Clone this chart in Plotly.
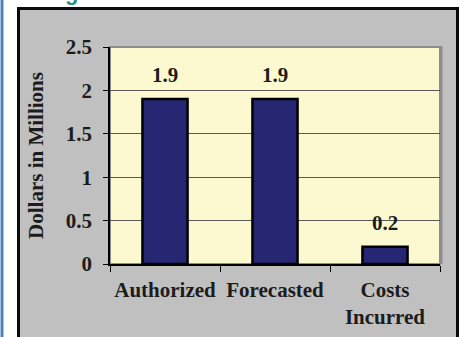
import plotly.graph_objects as go

# Chart data
categories = ["Authorized", "Forecasted", "Costs<br>Incurred"]
values = [1.9, 1.9, 0.2]
y_ticks = [0, 0.5, 1, 1.5, 2, 2.5]
y_tick_labels = ["0", "0.5", "1", "1.5", "2", "2.5"]

W, H = 460, 337
ML, MR, MT, MB = 110, 20, 47, 73
PW, PH = W - ML - MR, H - MT - MB


def px(x):
    """Pixel x -> paper x."""
    return (x - ML) / PW


def py(y):
    """Pixel y (from top) -> paper y."""
    return (H - MB - y) / PH


FONT = dict(family="Liberation Serif", size=21, color="#1c1c1c", weight="bold")

fig = go.Figure()
fig.add_trace(
    go.Bar(
        x=categories,
        y=values,
        marker=dict(color="#262673", line=dict(color="#000000", width=2.5)),
        width=0.41,
        hoverinfo="skip",
    )
)

# value labels above the bars
for c, v in zip(categories, values):
    fig.add_annotation(
        x=c, y=v, text=f"<b>{v:.1f}</b>", showarrow=False,
        xref="x", yref="y", yanchor="middle", yshift=24,
        font=FONT,
    )

# small heading fragment peeking in at the very top
fig.add_annotation(
    x=px(71), y=py(-7), xref="paper", yref="paper", text="<b>g</b>",
    showarrow=False, xanchor="center", yanchor="middle",
    font=dict(family="Liberation Sans", size=22, color="#2d8c8c", weight="bold"),
)

shapes = [
    # grey chart panel with heavy black frame
    dict(type="rect", xref="paper", yref="paper",
         x0=px(18.5), x1=px(457.5), y0=py(345), y1=py(8.5),
         fillcolor="#C0C0C0", line=dict(color="#0a0a0a", width=3), layer="below"),
    # blue rule on the left edge
    dict(type="line", xref="paper", yref="paper",
         x0=px(2), x1=px(2), y0=py(-5), y1=py(345),
         line=dict(color="#4F81BD", width=3), layer="below"),
    # plot area fill
    dict(type="rect", xref="paper", yref="paper",
         x0=0, x1=1, y0=0, y1=1,
         fillcolor="#FCF9D0", line=dict(color="#8c8c8c", width=2), layer="below"),
    # right-side shadow of the plot area
    dict(type="line", xref="paper", yref="paper",
         x0=px(441), x1=px(441), y0=py(264), y1=py(46),
         line=dict(color="#8c8c8c", width=3), layer="below"),
]

fig.update_layout(
    width=W, height=H,
    margin=dict(l=ML, r=MR, t=MT, b=MB, pad=0),
    paper_bgcolor="#FFFFFF",
    plot_bgcolor="rgba(0,0,0,0)",
    font=FONT,
    showlegend=False,
    shapes=shapes,
    bargap=0.59,
)

fig.update_xaxes(
    type="category",
    tickson="boundaries",
    tickvals=categories,
    ticktext=[f"<b>{c}</b>".replace("<br>", "</b><br><b>") for c in categories],
    tickangle=0,
    ticks="outside", ticklen=6, tickcolor="#000000", tickwidth=1,
    ticklabelstandoff=6,
    showline=True, linecolor="#000000", linewidth=1.5,
    showgrid=False,
    tickfont=FONT,
    automargin=False,
)

fig.update_yaxes(
    range=[0, 2.5],
    tickvals=y_ticks, ticktext=[f"<b>{t}</b>" for t in y_tick_labels],
    ticks="outside", ticklen=5, tickcolor="#000000", tickwidth=1,
    ticklabelstandoff=7,
    showline=True, linecolor="#000000", linewidth=1.5,
    showgrid=True, gridcolor="#5a5a55", gridwidth=1,
    zeroline=False,
    tickfont=FONT,
    title=dict(text="<b>Dollars in Millions</b>", font=FONT, standoff=16),
    automargin=False,
)

fig.write_html("out.html")
